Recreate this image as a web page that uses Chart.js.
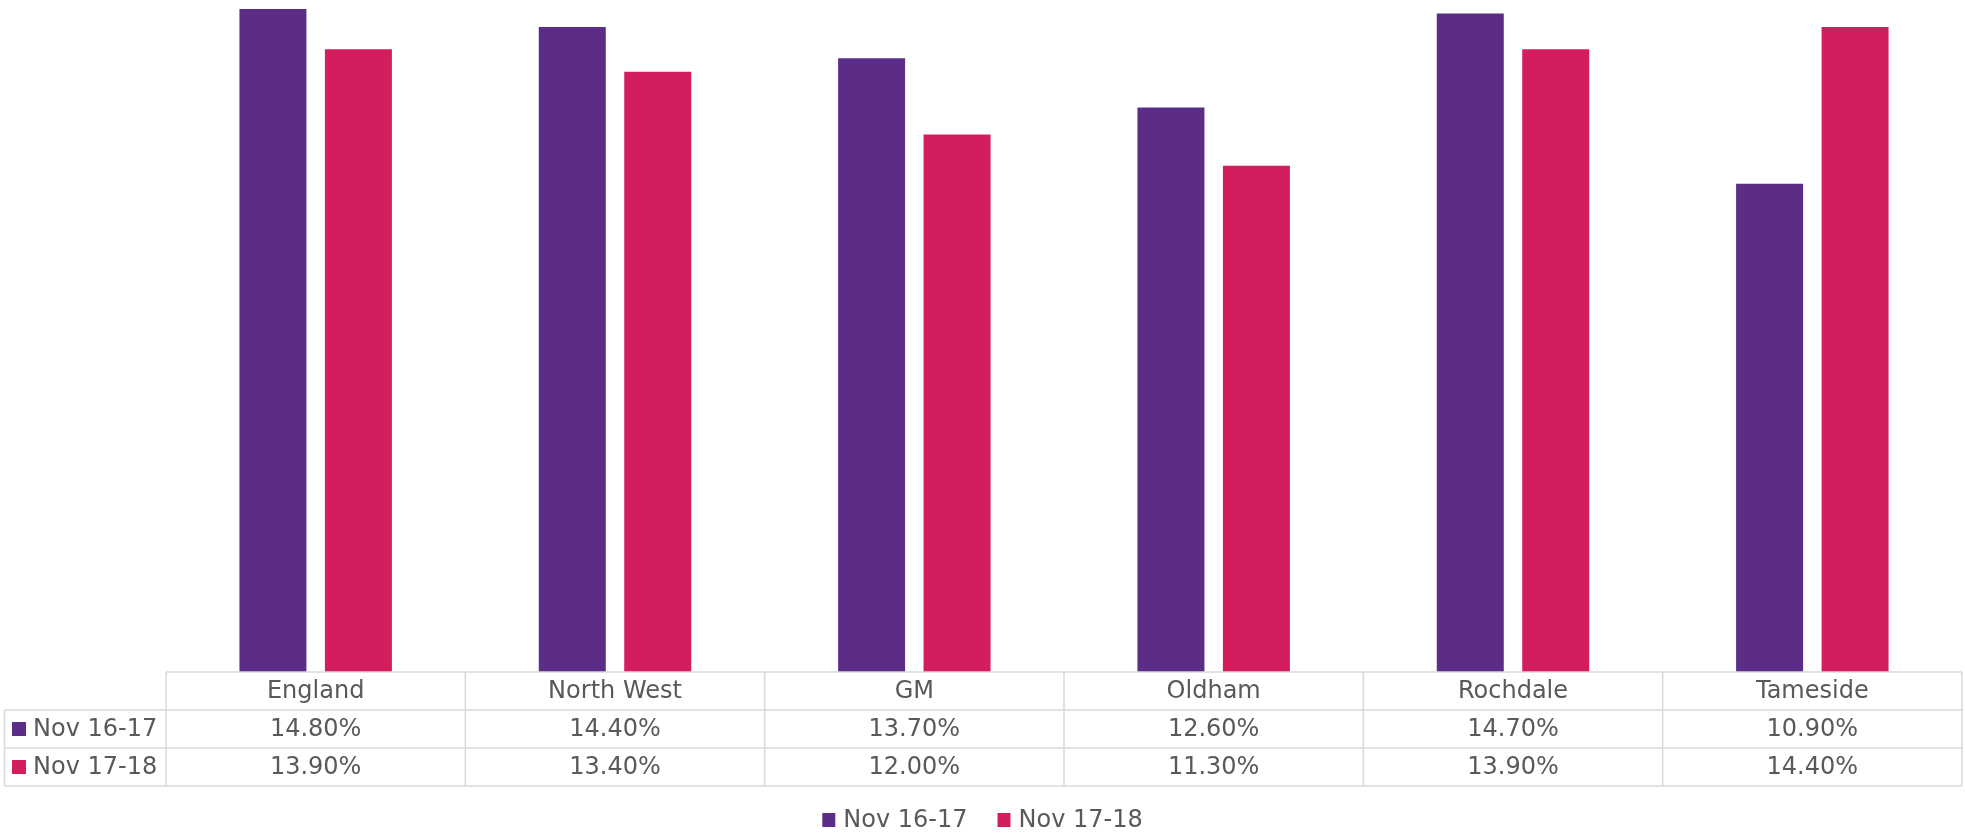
<!DOCTYPE html>
<html>
<head>
<meta charset="utf-8">
<script src="https://cdn.jsdelivr.net/npm/chart.js@4.4.1/dist/chart.umd.min.js"></script>
<style>
body{margin:0;background:#fff;}
#wrap{width:1965px;height:837px;}
</style>
</head>
<body>
<div id="wrap"><canvas id="chart1" width="1965" height="837"></canvas></div>
<script>
var categorias = ["England", "North West", "GM", "Oldham", "Rochdale", "Tameside"];
var serieNombres = ["Nov 16-17", "Nov 17-18"];
var nov1617 = [14.8, 14.4, 13.7, 12.6, 14.7, 10.9];
var nov1718 = [13.9, 13.4, 12.0, 11.3, 13.9, 14.4];
var colores = ["#5C2D87", "#D41D5E"];

var fuente = "'DejaVu Sans', Verdana, sans-serif";
var colorTexto = "#595959";
var colorBorde = "#D9D9D9";

// tabla de datos debajo del grafico (como en Excel)
var tablaDatos = {
    id: "tablaDatos",
    afterDraw: function(chart){
        var ctx = chart.ctx;
        var area = chart.chartArea;
        var xs = chart.scales.x;
        var n = chart.data.labels.length;
        var ancho = (area.right - area.left) / n;
        var filaH = 38;
        var y0 = area.bottom;
        var y1 = y0 + filaH;
        var y2 = y1 + filaH;
        var y3 = y2 + filaH;
        var izq = 4.5;

        ctx.save();
        ctx.strokeStyle = colorBorde;
        ctx.lineWidth = 1.5;
        ctx.beginPath();
        ctx.moveTo(area.left, y0); ctx.lineTo(area.right, y0);
        ctx.moveTo(izq, y1); ctx.lineTo(area.right, y1);
        ctx.moveTo(izq, y2); ctx.lineTo(area.right, y2);
        ctx.moveTo(izq, y3); ctx.lineTo(area.right, y3);
        ctx.moveTo(izq, y1); ctx.lineTo(izq, y3);
        for(var k=0;k<=n;k++){
            var bx = area.left + k*ancho;
            ctx.moveTo(bx, y0); ctx.lineTo(bx, y3);
        }
        ctx.stroke();

        ctx.font = "24px " + fuente;
        ctx.fillStyle = colorTexto;
        ctx.textAlign = "center";
        ctx.textBaseline = "middle";
        for(var i=0;i<n;i++){
            var cx = xs.getPixelForValue(i);
            ctx.fillText(chart.data.labels[i], cx, (y0+y1)/2 + 1);
            chart.data.datasets.forEach(function(ds, j){
                var yy = j==0 ? (y1+y2)/2 : (y2+y3)/2;
                ctx.fillText(ds.data[i].toFixed(2) + "%", cx, yy + 1);
            });
        }

        ctx.textAlign = "left";
        chart.data.datasets.forEach(function(ds, j){
            var yy = j==0 ? (y1+y2)/2 : (y2+y3)/2;
            ctx.fillStyle = ds.backgroundColor;
            ctx.fillRect(12, yy - 7, 14, 14);
            ctx.fillStyle = colorTexto;
            ctx.fillText(ds.label, 33, yy + 1);
        });

        // leyenda inferior
        var ly = 820;
        var anchos = chart.data.datasets.map(function(ds){ return ctx.measureText(ds.label).width; });
        var total = 13 + 8 + anchos[0] + 30 + 13 + 8 + anchos[1];
        var lx = chart.width/2 - total/2;
        chart.data.datasets.forEach(function(ds, j){
            ctx.fillStyle = ds.backgroundColor;
            ctx.fillRect(lx, ly - 7, 13, 14);
            ctx.fillStyle = colorTexto;
            ctx.fillText(ds.label, lx + 21, ly + 1);
            lx += 21 + anchos[j] + 30;
        });
        ctx.restore();
    }
};

var datos = {
    type: "bar",
    data: {
        labels: categorias,
        datasets: [
            { label: serieNombres[0], data: nov1617, backgroundColor: colores[0] },
            { label: serieNombres[1], data: nov1718, backgroundColor: colores[1] }
        ]
    },
    options: {
        responsive: false,
        animation: false,
        devicePixelRatio: 1,
        layout: { padding: { left: 166, right: 3, top: 0, bottom: 165 } },
        datasets: { bar: { categoryPercentage: 0.571, barPercentage: 0.784 } },
        scales: {
            x: { display: false },
            y: { display: false, min: 0, max: 15 }
        },
        plugins: {
            legend: { display: false },
            tooltip: { enabled: false }
        }
    },
    plugins: [tablaDatos]
};

var canvas = document.getElementById("chart1").getContext("2d");
window.bar = new Chart(canvas, datos);
</script>
</body>
</html>
